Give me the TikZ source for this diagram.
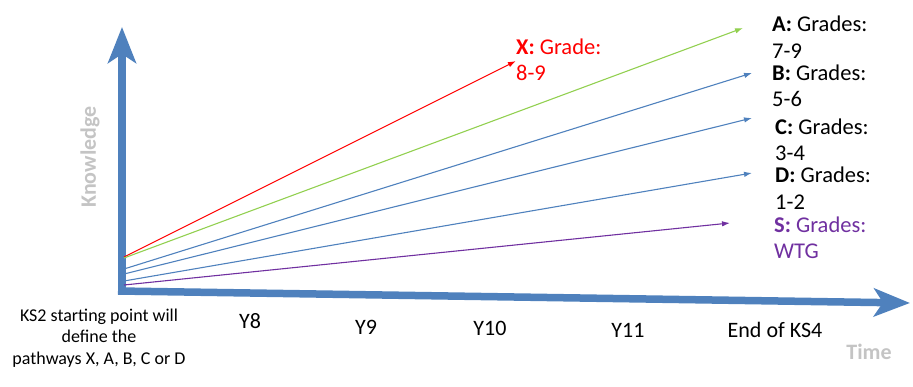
\documentclass[tikz,border=0pt]{standalone}
\usepackage{fontspec}
\setmainfont{Carlito}
\usepackage{tikz}
\usetikzlibrary{arrows.meta}
\definecolor{axisblue}{HTML}{4F81BD}
\definecolor{pathgreen}{HTML}{92D050}
\definecolor{pathpurple}{HTML}{7030A0}
\definecolor{labelgrey}{HTML}{C4C4C4}

\begin{document}
\begin{tikzpicture}[x=1pt, y=-1pt,
	axis/.style={line width=7.5pt, axisblue, -{Stealth[length=36pt, width=28pt, inset=9pt]}},
	route/.style={line width=1.1pt, -{Latex[length=8pt, width=5.5pt]}},
	grade/.style={anchor=west, inner sep=0pt, align=left, font=\fontsize{22.5}{26.5}\selectfont},
	year/.style={inner sep=0pt, font=\fontsize{22}{26}\selectfont},
	axislabel/.style={inner sep=0pt, text=labelgrey, font=\fontsize{22}{26}\selectfont\bfseries}]
	\useasboundingbox (0, 0) rectangle (913, 387);
	%% axes
	\coordinate (origin) at (122, 294);
	\coordinate (xstart) at (118, 291);
	\coordinate (ktip) at (122, 27);
	\coordinate (ttip) at (910, 303);
	\draw[axis] (origin) -- (ktip);
	\draw[axis] (xstart) -- (ttip);
	\node[axislabel, rotate=90] (know) at (90, 157) {Knowledge};
	\node[axislabel] (time) at (869, 352) {Time};
	%%
	\node[align=center, inner sep=0pt, font=\fontsize{18}{21.5}\selectfont] (ks2) at (99, 338) {KS2 starting point will\\define the\\pathways X, A, B, C or D};
	\node[year] (y8) at (250, 321) {Y8};
	\node[year] (y9) at (366, 327) {Y9};
	\node[year] (y10) at (490, 328) {Y10};
	\node[year] (y11) at (628, 330) {Y11};
	\node[year] (ks4) at (775, 330) {End of KS4};
	%% pathways
	\coordinate (xs) at (124, 257);
	\coordinate (as) at (124, 258);
	\coordinate (bs) at (124, 269);
	\coordinate (cs) at (124, 274);
	\coordinate (ds) at (124, 281);
	\coordinate (ss) at (124, 285);
	\coordinate (xe) at (516, 61);
	\coordinate (ae) at (743, 28);
	\coordinate (be) at (752, 73);
	\coordinate (ce) at (752, 118);
	\coordinate (de) at (752, 173);
	\coordinate (se) at (730, 223);
	\draw[route, red] (xs) -- (xe);
	\draw[route, pathgreen] (as) -- (ae);
	\draw[route, axisblue] (bs) -- (be);
	\draw[route, axisblue] (cs) -- (ce);
	\draw[route, axisblue] (ds) -- (de);
	\draw[route, pathpurple] (ss) -- (se);
	%%
	\node[grade, text=red] (xgrade) at (516, 60) {\textbf{X:} Grade:\\8-9};
	\node[grade] (agrade) at (772, 37) {\textbf{A:} Grades:\\7-9};
	\node[grade] (bgrade) at (772, 86) {\textbf{B:} Grades:\\5-6};
	\node[grade] (cgrade) at (775, 140) {\textbf{C:} Grades:\\3-4};
	\node[grade] (dgrade) at (775, 188) {\textbf{D:} Grades:\\1-2};
	\node[grade, text=pathpurple] (sgrade) at (774, 238) {\textbf{S:} Grades:\\WTG};
\end{tikzpicture}
\end{document}
